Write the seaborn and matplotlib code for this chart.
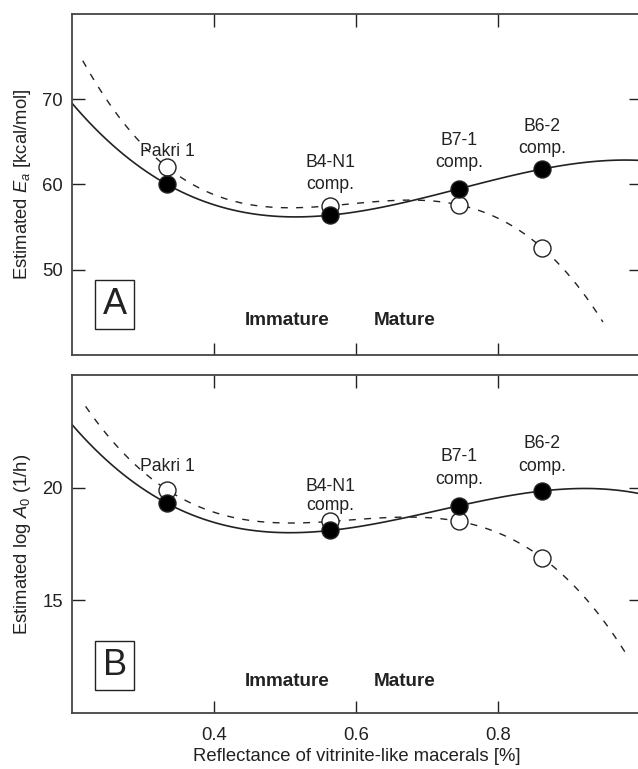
import numpy as np
import pandas as pd
import matplotlib
matplotlib.use('Agg')
import matplotlib.pyplot as plt
import seaborn as sns

sns.set_style("ticks")
plt.rcParams['font.family'] = ['Liberation Sans', 'DejaVu Sans']
plt.rcParams['mathtext.fontset'] = 'custom'
plt.rcParams['mathtext.rm'] = 'Liberation Sans'
plt.rcParams['mathtext.it'] = 'Liberation Sans:italic'
plt.rcParams['text.color'] = '#222222'
plt.rcParams['axes.labelcolor'] = '#222222'

# samples and vitrinite-like reflectance [%]
samples = ['Pakri 1', 'B4-N1\ncomp.', 'B7-1\ncomp.', 'B6-2\ncomp.']
refl = [0.334, 0.563, 0.745, 0.861]
# estimated Ea [kcal/mol]: filled = solid fit, open = dashed fit
ea_filled = [60.0, 56.4, 59.5, 61.8]
ea_open = [62.0, 57.5, 57.6, 52.6]
# estimated log A0 (1/h)
loga_filled = [19.3, 18.1, 19.2, 19.85]
loga_open = [19.9, 18.5, 18.5, 16.9]

# label block centres
label_y_a = [63.9, 61.3, 63.9, 65.5]
label_y_b = [20.94, 19.63, 20.87, 21.45]
spacing_b = [1.4, 1.15, 1.4, 1.4]

df = pd.DataFrame({'refl': refl, 'ea_f': ea_filled, 'ea_o': ea_open,
                   'la_f': loga_filled, 'la_o': loga_open})

fig = plt.figure(figsize=[6.38, 7.69], dpi=100)
ax1 = fig.add_axes([0.113, 0.5384, 0.891, 0.4434])
ax2 = fig.add_axes([0.113, 0.0728, 0.891, 0.4396])

ink = '#222222'


def panel(ax, yf, yo, ylim, dash_rng, lab_y, spacing, letter, letter_y, mat_y, ylab, yticks):
    # dashed fit for open symbols over its own range
    ax.set_xlim(*dash_rng)
    sns.regplot(x='refl', y=yo, data=df, order=3, ci=None, scatter=False, truncate=False,
                ax=ax, line_kws=dict(color=ink, lw=1.0, ls=(0, (5, 6))))
    ax.set_xlim(0.2, 1.0)
    sns.regplot(x='refl', y=yf, data=df, order=3, ci=None, scatter=False, truncate=False,
                ax=ax, line_kws=dict(color=ink, lw=1.2))
    sns.scatterplot(x='refl', y=yo, data=df, ax=ax, s=150, color='white', edgecolor=ink,
                    linewidth=1.0, zorder=5, legend=False)
    sns.scatterplot(x='refl', y=yf, data=df, ax=ax, s=150, color='black', edgecolor=ink,
                    linewidth=1.0, zorder=6, legend=False)
    for s, x, y, ls in zip(samples, refl, lab_y, spacing):
        ax.text(x, y, s, ha='center', va='center', fontsize=12.7, linespacing=ls)
    ax.text(0.26, letter_y, letter, fontsize=26, ha='center', va='center',
            bbox=dict(boxstyle='square,pad=0.2', fc='white', ec=ink, lw=1))
    ax.text(0.502, mat_y, 'Immature', fontsize=13.6, fontweight='bold', ha='center', va='center')
    ax.text(0.668, mat_y, 'Mature', fontsize=13.6, fontweight='bold', ha='center', va='center')
    ax.set_ylim(*ylim)
    ax.set_yticks(yticks)
    ax.set_xticks([0.4, 0.6, 0.8])
    ax.set_ylabel(ylab, fontsize=13.3, labelpad=7)
    ax.tick_params(direction='in', length=9, width=1, top=True, right=True,
                   labelsize=13.3, colors=ink)
    ax.tick_params(axis='y', pad=6.5)
    ax.tick_params(axis='x', pad=10)
    for sp in ax.spines.values():
        sp.set_color('#444444')
        sp.set_linewidth(1.3)


panel(ax1, 'ea_f', 'ea_o', (40, 80), (0.215, 0.947), label_y_a, [1.4] * 4, 'A', 45.9, 44.1,
      r'Estimated $E_a$ [kcal/mol]', [50, 60, 70])
panel(ax2, 'la_f', 'la_o', (10, 25), (0.219, 0.978), label_y_b, spacing_b, 'B', 12.1, 11.4,
      r'Estimated log $A_0$ (1/h)', [15, 20])

ax1.set_xlabel('')
ax1.tick_params(labelbottom=False)
ax2.set_xticklabels(['0.4', '0.6', '0.8'])
ax2.set_xlabel('Reflectance of vitrinite-like macerals [%]', fontsize=13.3, labelpad=3)

fig.savefig('out.png', dpi=100)
